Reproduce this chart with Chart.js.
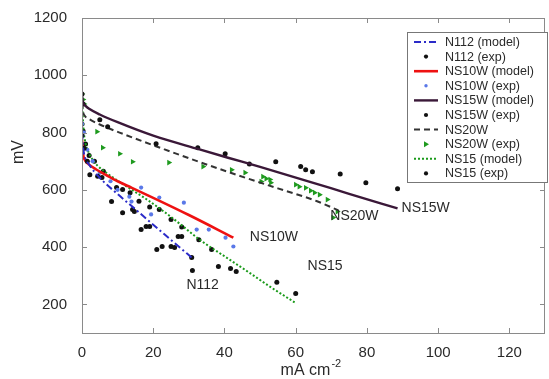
<!DOCTYPE html>
<html>
<head>
<meta charset="utf-8">
<script src="https://cdn.jsdelivr.net/npm/chart.js@4.4.0/dist/chart.umd.min.js"></script>
<style>
  html, body { margin: 0; padding: 0; background: #fff; }
</style>
</head>
<body>
<canvas id="chart" width="549" height="379"></canvas>
<script>
// axis ticks
const xTicks = [0, 20, 40, 60, 80, 100, 120];
const yTicks = [200, 400, 600, 800, 1000, 1200];

// N112
const n112ModelX = [0, 0.3, 0.8, 2, 5, 10, 15, 20, 25, 31.4];
const n112ModelY = [800, 748, 715, 688, 642, 585, 532, 478, 425, 357];
const n112ExpX = [0, 0.6, 1.5, 2.2, 4.4, 5.6, 8.3, 11.4, 14.2, 14.7, 16.6, 18, 19, 21, 22.5, 25, 26, 27, 28, 30.8, 31];
const n112ExpY = [790, 745, 700, 653, 647, 643, 559, 520, 531, 524, 461, 472, 472, 392, 402, 402, 399, 437, 437, 364, 318];

// NS10W
const ns10wModelX = [0, 0.3, 0.8, 2, 4, 7, 10, 14, 20, 30, 42.5];
const ns10wModelY = [775, 725, 704, 688, 671, 650, 630, 607, 572, 512, 433];
const ns10wExpX = [0, 0.5, 1.5, 3, 5, 8, 10, 13.3, 13.9, 16.6, 19.4, 21.7, 28.6, 32.2, 35.6, 40.3, 42.5];
const ns10wExpY = [830, 800, 740, 700, 660, 630, 600, 576, 559, 608, 514, 573, 555, 461, 461, 433, 402];

// NS15W
const ns15wModelX = [0, 0.3, 1, 2, 5, 10, 20, 33, 41, 50, 64, 75, 88.6];
const ns15wModelY = [930, 905, 893, 883, 863, 836, 789, 741, 712, 680, 628, 586, 535];
const ns15wExpX = [0, 0.3, 5, 7.2, 20.8, 32.5, 40.2, 47, 54.4, 61.4, 62.8, 64.7, 72.5, 79.7, 88.6];
const ns15wExpY = [935, 900, 845, 820, 761, 747, 726, 690, 698, 681, 670, 663, 655, 625, 604];

// NS20W
const ns20wModelX = [0, 0.3, 0.8, 2, 5, 12, 23, 33, 44, 55, 66, 72];
const ns20wModelY = [905, 872, 858, 847, 828, 793, 742, 697, 650, 605, 560, 528];
const ns20wExpX = [0, 0.3, 0.6, 4.2, 5.8, 10.6, 14.2, 24.4, 34, 42, 45.8, 50.8, 51.7, 52.8, 50.3, 53, 60, 61, 62.8, 64.2, 65.3, 66.7, 68.9, 71.7, 70.5];
const ns20wExpY = [935, 915, 900, 803, 747, 726, 698, 695, 681, 670, 660, 646, 639, 636, 629, 625, 618, 611, 607, 597, 590, 583, 566, 524, 503];

// NS15
const ns15ModelX = [0, 0.2, 0.5, 1, 2, 3.6, 7, 10, 14, 18, 23, 28, 32.8, 40, 46.7, 53, 59.7];
const ns15ModelY = [930, 860, 802, 762, 727, 695, 658, 632, 600, 568, 524, 476, 428, 368, 313, 260, 207];
const ns15ExpX = [0, 0.3, 1, 2, 3.5, 6, 9.7, 11.4, 13.5, 16, 19, 21.7, 25, 28, 32.8, 36.4, 38.3, 41.7, 43.3, 54.7, 60];
const ns15ExpY = [830, 805, 760, 720, 700, 665, 608, 601, 590, 560, 540, 531, 496, 470, 426, 392, 332, 325, 315, 277, 238];

// curve labels: [text, x, y]
const curveLabels = [
  ['N112', 28.2, 266],
  ['NS10W', 46.0, 434],
  ['NS20W', 68.6, 508],
  ['NS15W', 88.6, 535],
  ['NS15', 62.2, 332]
];

const pts = (xs, ys) => xs.map((x, i) => ({ x, y: ys[i] }));

function model(label, xs, ys, color, width, dash) {
  return {
    label, data: pts(xs, ys), showLine: true, borderColor: color, backgroundColor: color,
    borderWidth: width, borderDash: dash, pointRadius: 0, cubicInterpolationMode: 'monotone',
    kind: 'line'
  };
}
function exp(label, xs, ys, color, radius, style, rot) {
  return {
    label, data: pts(xs, ys), showLine: false, borderColor: color, backgroundColor: color,
    pointRadius: radius, pointStyle: style || 'circle', rotation: rot || 0, borderWidth: 0,
    kind: 'point'
  };
}

const datasets = [
  model('N112 (model)', n112ModelX, n112ModelY, '#2b2bc8', 2, [7, 3, 2, 3]),
  exp('N112 (exp)', n112ExpX, n112ExpY, '#111', 2.5),
  model('NS10W (model)', ns10wModelX, ns10wModelY, '#ee1111', 2.6, []),
  exp('NS10W (exp)', ns10wExpX, ns10wExpY, '#5a78e8', 2.1),
  model('NS15W (model)', ns15wModelX, ns15wModelY, '#3a1838', 2.4, []),
  exp('NS15W (exp)', ns15wExpX, ns15wExpY, '#111', 2.5),
  model('NS20W', ns20wModelX, ns20wModelY, '#333', 2, [6, 4]),
  exp('NS20W (exp)', ns20wExpX, ns20wExpY, '#1e9a1e', 3.3, 'triangle', 90),
  model('NS15 (model)', ns15ModelX, ns15ModelY, '#1a9a1a', 2, [2, 2]),
  exp('NS15 (exp)', ns15ExpX, ns15ExpY, '#111', 2.5)
];

const axisGray = '#8a8a8a';
const textCol = '#2a2a2a';
const FONT = '"Liberation Sans", Arial, sans-serif';

const decor = {
  id: 'decor',
  afterDraw(chart) {
    const { ctx, chartArea: a, scales: { x, y } } = chart;
    ctx.save();
    // box
    ctx.strokeStyle = axisGray;
    ctx.lineWidth = 1;
    ctx.strokeRect(a.left + 0.5, a.top + 0.5, a.right - a.left - 1, a.bottom - a.top);
    // inward ticks on all four sides
    ctx.beginPath();
    xTicks.forEach(v => {
      const px = Math.round(x.getPixelForValue(v)) + 0.5;
      ctx.moveTo(px, a.bottom); ctx.lineTo(px, a.bottom - 5);
      ctx.moveTo(px, a.top); ctx.lineTo(px, a.top + 5);
    });
    yTicks.forEach(v => {
      const py = Math.round(y.getPixelForValue(v)) + 0.5;
      ctx.moveTo(a.left, py); ctx.lineTo(a.left + 5, py);
      ctx.moveTo(a.right, py); ctx.lineTo(a.right - 5, py);
    });
    ctx.stroke();

    // curve labels
    ctx.fillStyle = textCol;
    ctx.font = '14px ' + FONT;
    ctx.textBaseline = 'middle';
    ctx.textAlign = 'left';
    curveLabels.forEach(([t, vx, vy]) => {
      ctx.fillText(t, x.getPixelForValue(vx) + 4, y.getPixelForValue(vy));
    });

    // axis titles
    const cx = (a.left + a.right) / 2;
    ctx.font = '16px ' + FONT;
    ctx.textAlign = 'center';
    ctx.fillText('mA cm', cx - 8, 371);
    const w = ctx.measureText('mA cm').width;
    ctx.font = '11px ' + FONT;
    ctx.textAlign = 'left';
    ctx.fillText('-2', cx - 8 + w / 2 + 1, 364);
    ctx.save();
    ctx.translate(19, 152);
    ctx.rotate(-Math.PI / 2);
    ctx.font = '16px ' + FONT;
    ctx.textAlign = 'center';
    ctx.fillText('mV', 0, 0);
    ctx.restore();

    // legend box
    const lx = 407, ly = 32, lw = 140, lh = 150;
    ctx.fillStyle = '#fff';
    ctx.fillRect(lx, ly, lw, lh);
    ctx.strokeStyle = '#777';
    ctx.strokeRect(lx + 0.5, ly + 0.5, lw, lh);
    ctx.font = '12.5px ' + FONT;
    ctx.textAlign = 'left';
    ctx.textBaseline = 'middle';
    chart.data.datasets.forEach((ds, i) => {
      const cy = 42 + i * 14.6;
      if (ds.kind === 'line') {
        ctx.save();
        ctx.strokeStyle = ds.borderColor;
        ctx.lineWidth = ds.borderWidth;
        ctx.setLineDash(ds.borderDash || []);
        ctx.beginPath();
        ctx.moveTo(414, cy); ctx.lineTo(438, cy);
        ctx.stroke();
        ctx.restore();
      } else {
        ctx.save();
        ctx.fillStyle = ds.backgroundColor;
        if (ds.pointStyle === 'triangle') {
          ctx.beginPath();
          ctx.moveTo(429, cy); ctx.lineTo(424, cy - 3); ctx.lineTo(424, cy + 3);
          ctx.closePath(); ctx.fill();
        } else {
          ctx.beginPath();
          ctx.arc(426, cy, ds.pointRadius - 0.4, 0, Math.PI * 2);
          ctx.fill();
        }
        ctx.restore();
      }
      ctx.fillStyle = textCol;
      ctx.fillText(ds.label, 445, cy + 0.5);
    });
    ctx.restore();
  }
};

new Chart(document.getElementById('chart'), {
  type: 'scatter',
  data: { datasets },
  options: {
    responsive: false,
    animation: false,
    layout: { padding: { top: 18, right: 1, left: 0, bottom: 0 } },
    plugins: { legend: { display: false }, tooltip: { enabled: false } },
    scales: {
      x: {
        type: 'linear', min: 0, max: 130,
        afterBuildTicks: s => { s.ticks = xTicks.map(v => ({ value: v })); },
        afterFit: s => { s.height = 46; },
        grid: { display: false },
        border: { display: false },
        ticks: { color: textCol, font: { family: FONT, size: 15 }, padding: 3, maxRotation: 0, callback: v => String(v) }
      },
      y: {
        type: 'linear', min: 100, max: 1200,
        afterBuildTicks: s => { s.ticks = yTicks.map(v => ({ value: v })); },
        afterFit: s => { s.width = 82; },
        grid: { display: false },
        border: { display: false },
        ticks: { color: textCol, font: { family: FONT, size: 15 }, padding: 7, callback: v => String(v) }
      }
    }
  },
  plugins: [decor]
});
</script>
</body>
</html>
